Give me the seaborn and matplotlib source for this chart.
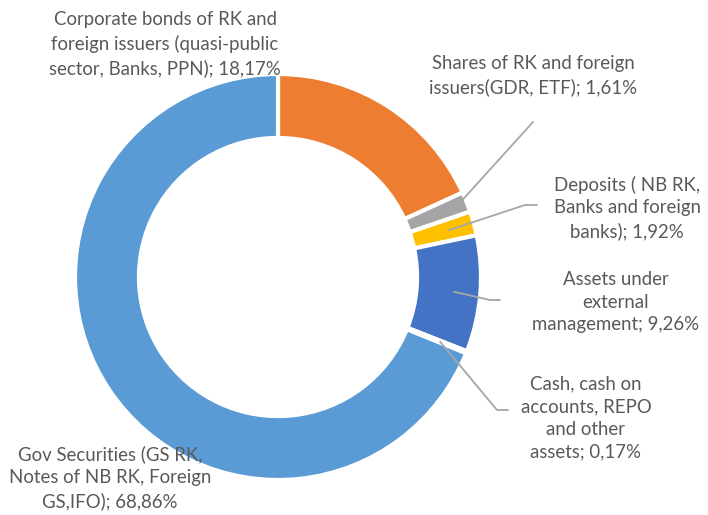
import numpy as np
import matplotlib
matplotlib.use("Agg")
import matplotlib.pyplot as plt
import seaborn as sns

# Portfolio structure (share of total, %)
categories = [
    "Corporate bonds of RK and\nforeign issuers (quasi-public\nsector, Banks, PPN)",
    "Shares of RK and foreign\nissuers(GDR, ETF)",
    "Deposits ( NB RK,\nBanks and foreign\nbanks)",
    "Assets under\nexternal\nmanagement",
    "Cash, cash on\naccounts, REPO\nand other\nassets",
    "Gov Securities (GS RK,\nNotes of NB RK, Foreign\nGS,IFO)",
]
shares = [18.17, 1.61, 1.92, 9.26, 0.17, 68.86]
colors = ["#ED7D31", "#A5A5A5", "#FFC000", "#4472C4", "#70AD47", "#5B9BD5"]

sns.set_theme(style="white")
plt.rcParams["font.family"] = ["Lato", "DejaVu Sans"]

# pixel layout of the picture
W, H = 708, 515
CX, CY, R = 278, 277, 203


def px(x, y):
    return (x - CX) / R, (CY - y) / R


fig = plt.figure(figsize=(W / 100, H / 100), dpi=100)
ax = fig.add_axes([0, 0, 1, 1])

wedges, _ = ax.pie(shares, colors=colors, startangle=90, counterclock=False,
                   radius=1.0, wedgeprops=dict(width=0.315, edgecolor="white", linewidth=3))

ax.set_xlim(-CX / R, (W - CX) / R)
ax.set_ylim((CY - H) / R, CY / R)
ax.set_aspect("equal")
ax.axis("off")

# label block centres (pixels) and leader line elbows
text_pos = [(165, 44), (533, 76), (627, 208), (616, 302), (586, 418), (110, 478)]
elbows = [None, [(533, 122)], [(525, 205), (537, 205)], [(490, 300), (500, 300)],
          [(497, 410), (508, 410)], None]
anchor_r = [None, 0.95, 0.87, 0.87, 0.86, None]

cum = np.cumsum([0] + shares[:-1])
total = sum(shares)
for i, (lab, val) in enumerate(zip(categories, shares)):
    txt = f"{lab}; {val:.2f}%".replace(".", ",")
    tx, ty = px(*text_pos[i])
    ax.text(tx, ty, txt, ha="center", va="center", multialignment="center",
            fontsize=13.4, color="#595959", linespacing=1.42)
    if elbows[i] is not None:
        mid = np.deg2rad(90 - 360 * (cum[i] + val / 2) / total)
        pts = [(anchor_r[i] * np.cos(mid), anchor_r[i] * np.sin(mid))]
        pts += [px(*p) for p in elbows[i]]
        xs, ys = zip(*pts)
        ax.plot(xs, ys, color="#A6A6A6", linewidth=1.3)

fig.savefig("out.png", dpi=100)
